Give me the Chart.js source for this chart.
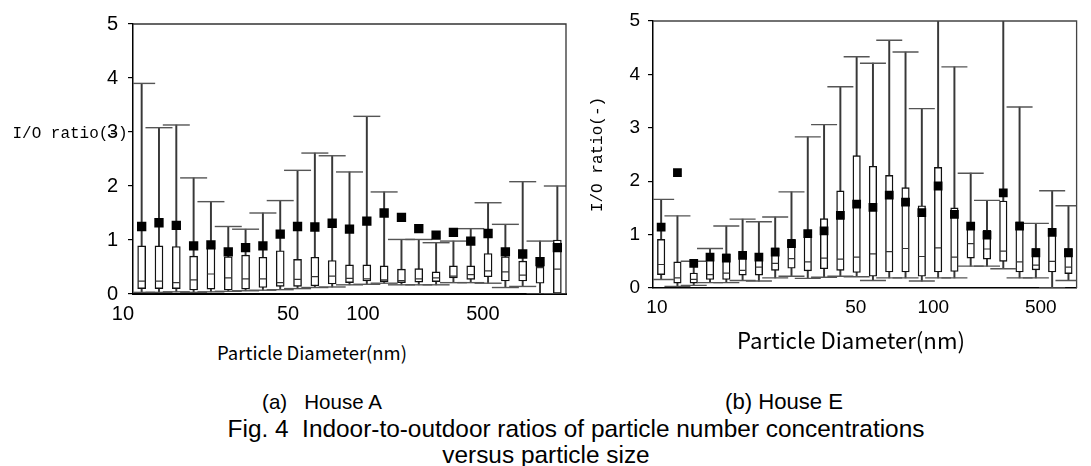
<!DOCTYPE html>
<html><head><meta charset="utf-8">
<script src="https://cdn.jsdelivr.net/npm/chart.js@4.4.0/dist/chart.umd.min.js"></script>
<style>
html,body{margin:0;padding:0;background:#fff;}
#wrap{position:relative;width:1091px;height:466px;overflow:hidden;background:#fff;}
canvas{position:absolute;}
.t{position:absolute;white-space:nowrap;color:#000;line-height:1;transform:translate(-50%,-50%);}
</style></head><body>
<div id="wrap">
<canvas id="cA" width="590" height="330" style="left:0;top:0;width:590px;height:330px"></canvas>
<canvas id="cE" width="531" height="330" style="left:560px;top:0;width:531px;height:330px"></canvas>
<div class="t" id="yA">I/O ratio(-)</div>
<div class="t" id="xA">Particle Diameter(nm)</div>
<div class="t" id="xE">Particle Diameter(nm)</div>
<div class="t" id="capA">(a)&nbsp;&nbsp; House A</div>
<div class="t" id="capE">(b) House E</div>
<div class="t" id="fig1">Fig. 4&nbsp; Indoor-to-outdoor ratios of particle number concentrations</div>
<div class="t" id="fig2">versus particle size</div>
</div>
<script>
// ---------- data ----------
// House A: 25 size bins
const binsA = ['1','2','3','4','5','6','7','8','9','10','11','12','13','14','15','16','17','18','19','20','21','22','23','24','25'];
const maxA  = [3.90,3.08,3.13,2.15,1.71,1.25,1.20,1.50,1.73,2.29,2.61,2.56,2.26,3.29,1.89,1.01,1.01,0.95,0.98,1.21,1.69,1.29,2.08,0.98,2.00];
const q3A   = [0.89,0.89,0.88,0.70,0.86,0.69,0.72,0.68,0.80,0.64,0.68,0.62,0.54,0.54,0.52,0.46,0.47,0.41,0.52,0.52,0.75,0.69,0.61,0.52,1.00];
const medA  = [0.24,0.24,0.21,0.26,0.37,0.30,0.28,0.28,0.21,0.27,0.32,0.33,0.29,0.28,0.26,0.25,0.28,0.30,0.33,0.36,0.43,0.41,0.35,0.49,0.46];
const q1A   = [0.10,0.10,0.10,0.075,0.09,0.075,0.09,0.12,0.14,0.14,0.15,0.185,0.21,0.24,0.23,0.21,0.22,0.23,0.30,0.27,0.32,0.24,0.24,0.20,0.0];
const minA  = [0.03,0.03,0.04,0.03,0.04,0.05,0.06,0.07,0.08,0.10,0.12,0.13,0.17,0.18,0.20,0.17,0.17,0.17,0.21,0.21,0.20,0.12,0.14,0.0,0.0];
const meanA = [1.25,1.32,1.27,0.89,0.91,0.78,0.86,0.89,1.11,1.25,1.24,1.31,1.20,1.35,1.50,1.42,1.21,1.09,1.14,0.98,1.12,0.78,0.74,0.60,0.86];

// House E: 26 size bins
const binsE = ['1','2','3','4','5','6','7','8','9','10','11','12','13','14','15','16','17','18','19','20','21','22','23','24','25','26'];
const maxE  = [1.66,1.35,0.50,0.74,1.16,1.29,1.24,1.33,1.80,2.83,3.06,3.77,4.33,4.21,4.64,4.42,3.36,5.5,4.14,2.15,1.64,5.5,3.39,1.21,1.82,1.54];
const q3E   = [0.91,0.49,0.28,0.64,0.64,0.67,0.64,0.75,0.91,1.08,1.30,1.82,2.48,2.28,2.11,1.88,1.54,2.26,1.50,1.20,1.08,1.63,1.24,0.74,1.11,0.74];
const medE  = [0.44,0.19,0.16,0.25,0.28,0.33,0.39,0.46,0.55,0.49,0.56,0.54,0.58,0.64,0.68,0.74,0.59,0.75,0.58,0.83,0.73,0.69,0.49,0.43,0.50,0.39];
const q1E   = [0.25,0.09,0.09,0.16,0.16,0.24,0.24,0.33,0.37,0.32,0.36,0.33,0.29,0.22,0.30,0.30,0.22,0.30,0.31,0.56,0.54,0.50,0.30,0.34,0.30,0.27];
const minE  = [0.16,0.03,0.05,0.10,0.10,0.14,0.13,0.19,0.22,0.18,0.20,0.22,0.21,0.14,0.19,0.19,0.13,0.19,0.19,0.41,0.41,0.36,0.19,0.19,0.0,0.14];
const meanE = [1.14,2.16,0.46,0.58,0.56,0.61,0.58,0.67,0.83,1.02,1.07,1.36,1.57,1.51,1.74,1.61,1.41,1.91,1.38,1.16,0.99,1.78,1.16,0.66,1.04,0.66];

// x tick labels (diameter, nm) and where they sit, in bin-index units
const xTickLabels = ['10','50','100','500'];
const xTickPosA = [-1.08, 8.45, 12.78, 19.7];
const xTickPosE = [-0.26, 11.95, 16.7, 23.3];
const yTicks = [0,1,2,3,4,5];

// ---------- chart ----------
const SANS = '"Liberation Sans", Arial, sans-serif';
const frame = {
  id: 'frame',
  afterDatasetsDraw(c, a, o) {
    const ar = c.chartArea, ctx = c.ctx;
    ctx.save();
    ctx.strokeStyle = o.color; ctx.lineWidth = o.width;
    ctx.beginPath();
    ctx.moveTo(ar.left, ar.top); ctx.lineTo(ar.right, ar.top); ctx.lineTo(ar.right, ar.bottom);
    ctx.stroke();
    ctx.restore();
  }
};

function build(id, d, o) {
  const n = d.bins.length;
  const datasets = [
    {type:'bar', label:'range', data:d.min.map((v,i)=>[v, d.max[i]]), backgroundColor:'#383838',
     barThickness:1.3, grouped:false, clip:0, order:6},
    {type:'bar', label:'box', data:d.q1.map((v,i)=>[v, d.q3[i]]), backgroundColor:'#fff', borderColor:'#111',
     borderWidth:1.4, borderSkipped:false, barThickness:o.boxW, grouped:false, clip:0, order:5},
    {type:'line', label:'median', data:d.med, showLine:false, pointStyle:'line', pointRadius:o.boxW/2 - 0.5,
     pointBorderColor:'#333', pointBorderWidth:1.2, order:4},
    {type:'line', label:'max', data:d.max, showLine:false, pointStyle:'line', pointRadius:o.capR,
     pointBorderColor:'#555', pointBorderWidth:1.4, clip:0, order:3},
    {type:'line', label:'min', data:d.min, showLine:false, pointStyle:'line', pointRadius:o.capR,
     pointBorderColor:'#555', pointBorderWidth:1.4, clip:0, order:2},
    {type:'line', label:'mean', data:d.mean, showLine:false, pointStyle:'rect', pointRadius:o.meanR,
     pointBackgroundColor:'#000', pointBorderColor:'#000', pointBorderWidth:0, order:1}
  ];
  const scales = {
    x: {type:'category', display:false, offset:true},
    xt: {type:'linear', position:'bottom', min:-0.5, max:n-0.5, bounds:'data', offset:false,
      afterBuildTicks: s => { s.ticks = o.tickPos.map(v => ({value:v})); },
      ticks:{autoSkip:false, maxRotation:0, color:'#000', padding:o.xtPad,
        font:{family:SANS, size:o.xFont}, callback:(v,i)=>xTickLabels[i]},
      grid:{display:false, offset:false},
      border:{display:true, color:'#000', width:o.xBorder},
      afterFit: s => { s.height = o.xH; }
    },
    y: {type:'linear', position:'left', min:0, max:5,
      afterBuildTicks: s => { s.ticks = yTicks.map(v => ({value:v})); },
      ticks:{color:'#000', padding:o.ytPad, font:{family:SANS, size:o.yFont}},
      grid:{drawOnChartArea:false, drawTicks:true, tickLength:5, color:'#000', lineWidth:1.2},
      border:{display:true, color:'#000', width:1.5},
      title: o.yTitle ? {display:true, text:o.yTitle, color:'#000', font:{family:'"Liberation Mono", monospace', size:16}, padding:{top:o.yTitlePad, bottom:0}} : {display:false},
      afterFit: s => { s.width = o.yW; }
    }
  };
  return new Chart(document.getElementById(id), {
    type:'bar',
    data:{labels:d.bins, datasets},
    options:{
      responsive:false, animation:false, events:[], devicePixelRatio:1,
      layout:{padding:o.pad},
      plugins:{legend:{display:false}, tooltip:{enabled:false}, title:{display:false}, frame:{color:o.frameColor, width:1.3}},
      scales
    },
    plugins:[frame]
  });
}

build('cA', {bins:binsA, max:maxA, q3:q3A, med:medA, q1:q1A, min:minA, mean:meanA}, {
  boxW:8, capR:13.5, meanR:6.6, tickPos:xTickPosA, xFont:20, yFont:20, xtPad:0, ytPad:10, xBorder:2,
  xH:36, yW:133, pad:{left:0, top:24, right:24, bottom:0}, frameColor:'#333'
});
build('cE', {bins:binsE, max:maxE, q3:q3E, med:medE, q1:q1E, min:minE, mean:meanE}, {
  boxW:7.5, capR:13, meanR:6.2, tickPos:xTickPosE, xFont:19, yFont:19, xtPad:0, ytPad:8, xBorder:1.5,
  xH:42, yW:93, pad:{left:0, top:21, right:12, bottom:0}, frameColor:'#444',
  yTitle:'I/O ratio(-)', yTitlePad:28
});

// ---------- html text labels ----------
const mctx = document.createElement('canvas').getContext('2d');
function fitSize(text, family, targetW) {
  mctx.font = '100px ' + family;
  return targetW / mctx.measureText(text).width * 100;
}
function place(id, family, size, cx, cy) {
  const el = document.getElementById(id);
  el.style.fontFamily = family;
  el.style.fontSize = size.toFixed(2) + 'px';
  el.style.left = cx + 'px';
  el.style.top = cy + 'px';
}
function placeFit(id, family, targetW, cx, cy) {
  const s = fitSize(document.getElementById(id).textContent, family, targetW);
  place(id, family, s, cx, cy);
  return s;
}
const CJK = '"Noto Sans CJK JP", sans-serif';
placeFit('yA', '"Liberation Mono", monospace', 115, 70, 135);
placeFit('xA', CJK, 190, 312, 352);
placeFit('xE', CJK, 228, 851, 339);
placeFit('capA', SANS, 121, 322, 402);
placeFit('capE', SANS, 118, 784, 402);
const figSize = placeFit('fig1', SANS, 697, 576, 429);
place('fig2', SANS, figSize, 546, 455);
</script>
</body></html>
